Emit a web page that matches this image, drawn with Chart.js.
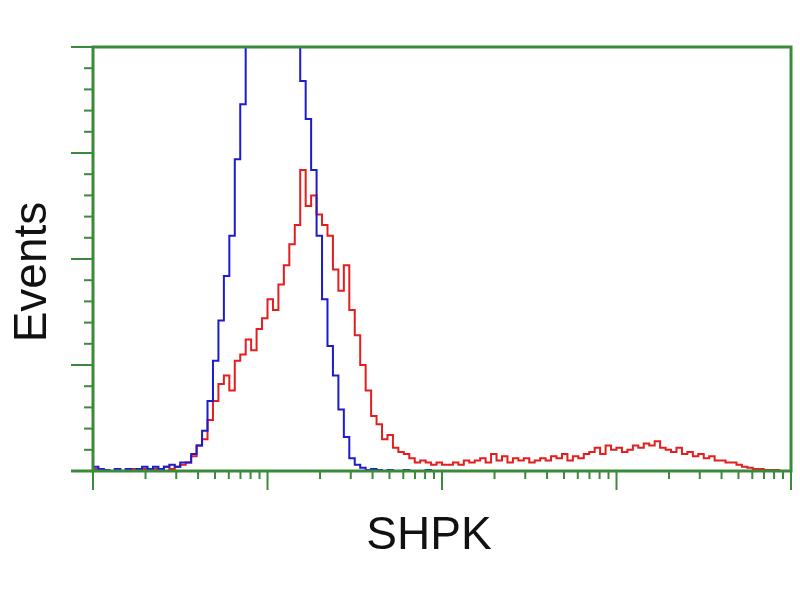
<!DOCTYPE html>
<html>
<head>
<meta charset="utf-8">
<script src="https://cdn.jsdelivr.net/npm/chart.js@4/dist/chart.umd.min.js"></script>
<style>
  html, body { margin: 0; padding: 0; background: #fff; }
  #wrap { width: 800px; height: 600px; position: relative; }
</style>
</head>
<body>
<div id="wrap"><canvas id="histo"></canvas></div>
<script>
// log-spaced channels, 32 bins per decade, 1 .. 10^4
const binsPerDecade = 32;

// isotype control (blue), events per bin
const blueCounts = [
  0, 2, 1, 0.5, 0, 1, 0, 1, 0, 1, 2, 1, 2, 1, 2, 3, 2,
  4, 4, 8, 12, 19, 33, 52, 71, 92, 111, 147, 173, 215, 240, 262, 278,
  290, 295, 288, 272, 250, 226, 184, 166, 142, 111, 81, 59, 45, 29, 16, 6,
  3, 1.5, 0.5, 1, 0.5, 0, 0.5, 0, 0, 0.5, 0, 0, 0, 0.5, 0
];

// SHPK stained (red), events per bin
const redCounts = [
  0, 1, 0, 0.5, 0, 1, 0, 0.5, 1, 0, 1, 0.5, 1, 1, 2, 1, 2,
  3, 4, 7, 12, 15, 24, 33, 41, 45, 38, 52, 55, 62, 57, 67, 72,
  81, 76, 88, 97, 107, 116, 142, 125, 130, 121, 116, 111, 95, 85, 97, 76,
  64, 50, 38, 26, 22, 15, 17, 11, 9, 8, 6, 4, 5, 4, 3, 4,
  3, 3, 4, 3, 5, 4, 5, 6, 4, 8, 5, 7, 4, 6, 5, 6,
  4, 5, 6, 5, 7, 6, 8, 5, 7, 6, 8, 9, 11, 8, 12, 10,
  11, 9, 10, 12, 11, 13, 12, 14, 11, 10, 9, 11, 8, 9, 7, 8,
  6, 7, 5, 5, 4, 4, 3, 2, 1.5, 1, 1, 0.5, 0.5
];

const yMajor = [0, 50, 100, 150, 200];
const yMinor = [10, 20, 30, 40, 60, 70, 80, 90, 110, 120, 130, 140, 160, 170, 180, 190];
const xMajor = [1, 10, 100, 1000, 10000];
const xMinorSteps = [2, 3, 4, 5, 6, 7, 8, 9];

const xLabel = 'SHPK';
const yLabel = 'Events';

function toPoints(counts) {
  const pts = counts.map((c, i) => ({ x: Math.pow(10, i / binsPerDecade), y: c }));
  // close off the last bin
  pts.push({ x: Math.pow(10, counts.length / binsPerDecade), y: counts[counts.length - 1] });
  return pts;
}

const frameGreen = '#3b8a3b';

// frame, tick marks and axis labels
const framePlugin = {
  id: 'frame',
  afterDraw(chart) {
    const ctx = chart.ctx;
    const a = chart.chartArea;
    const xs = chart.scales.x;
    const ys = chart.scales.y;
    ctx.save();
    ctx.strokeStyle = frameGreen;

    // y ticks
    ctx.lineWidth = 2;
    yMajor.forEach(v => {
      const py = ys.getPixelForValue(v);
      ctx.beginPath();
      ctx.moveTo(a.left - 22, py);
      ctx.lineTo(a.left, py);
      ctx.stroke();
    });
    yMinor.forEach(v => {
      const py = ys.getPixelForValue(v);
      ctx.beginPath();
      ctx.moveTo(a.left - 9, py);
      ctx.lineTo(a.left, py);
      ctx.stroke();
    });

    // x ticks
    xMajor.forEach(v => {
      const px = xs.getPixelForValue(v);
      ctx.beginPath();
      ctx.moveTo(px, a.bottom);
      ctx.lineTo(px, a.bottom + 19);
      ctx.stroke();
    });
    xMajor.slice(0, -1).forEach(d => {
      xMinorSteps.forEach(s => {
        const px = xs.getPixelForValue(d * s);
        ctx.beginPath();
        ctx.moveTo(px, a.bottom);
        ctx.lineTo(px, a.bottom + 8);
        ctx.stroke();
      });
    });

    // frame
    ctx.lineWidth = 3;
    ctx.strokeRect(a.left, a.top, a.right - a.left, a.bottom - a.top);
    ctx.beginPath();
    ctx.moveTo(a.left - 22, a.bottom);
    ctx.lineTo(a.left, a.bottom);
    ctx.stroke();

    // labels
    ctx.fillStyle = '#111';
    ctx.font = '46px "Liberation Sans", Arial, sans-serif';
    ctx.textAlign = 'center';
    ctx.textBaseline = 'alphabetic';
    ctx.fillText(xLabel, 429, 549);

    ctx.translate(46, 272);
    ctx.rotate(-Math.PI / 2);
    ctx.fillText(yLabel, 0, 0);
    ctx.restore();
  }
};

new Chart(document.getElementById('histo'), {
  type: 'line',
  data: {
    datasets: [
      {
        label: 'control',
        data: toPoints(blueCounts),
        borderColor: 'rgb(28, 28, 205)',
        borderWidth: 2,
        stepped: 'after',
        pointRadius: 0,
        fill: false,
        order: 0
      },
      {
        label: 'SHPK',
        data: toPoints(redCounts),
        borderColor: 'rgb(228, 30, 30)',
        borderWidth: 2,
        stepped: 'after',
        pointRadius: 0,
        fill: false,
        order: 1
      }
    ]
  },
  options: {
    responsive: true,
    maintainAspectRatio: false,
    animation: false,
    layout: { padding: { left: 93, right: 9, top: 47, bottom: 129 } },
    plugins: {
      legend: { display: false },
      tooltip: { enabled: false }
    },
    scales: {
      x: { type: 'logarithmic', min: 1, max: 10000, display: false },
      y: { type: 'linear', min: 0, max: 200, display: false }
    }
  },
  plugins: [framePlugin]
});
</script>
</body>
</html>
